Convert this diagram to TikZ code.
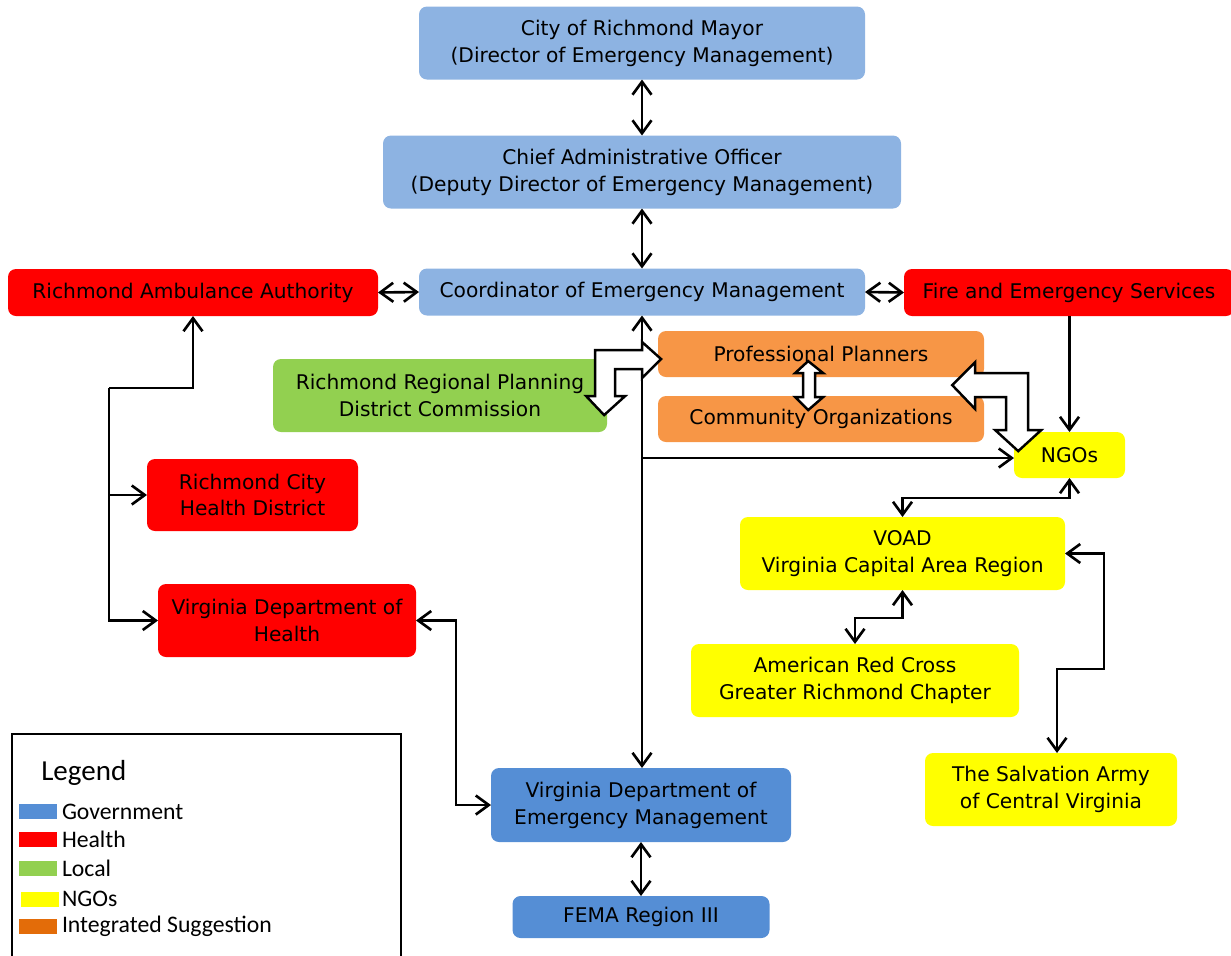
\documentclass[tikz,border=0pt]{standalone}
\usepackage{fontspec}
\setmainfont{DejaVu Sans}
\newfontfamily\legendfont{Carlito}
\usepackage{xcolor}
\definecolor{colorGovLight}{HTML}{8DB3E2}
\definecolor{colorGov}{HTML}{558ED5}
\definecolor{colorHealth}{HTML}{FF0000}
\definecolor{colorLocal}{HTML}{92D050}
\definecolor{colorNGO}{HTML}{FFFF00}
\definecolor{colorPlan}{HTML}{F79646}
\definecolor{colorSuggest}{HTML}{E36C09}
\usetikzlibrary{arrows.meta, positioning}
\tikzset{
  orgbox/.style={rounded corners=0.16cm, align=center, inner sep=2pt, outer sep=0pt, font=\fontsize{11.5}{15.3}\selectfont},
  govlight/.style={orgbox, fill=colorGovLight},
  govbox/.style={orgbox, fill=colorGov},
  healthbox/.style={orgbox, fill=colorHealth},
  localbox/.style={orgbox, fill=colorLocal},
  ngobox/.style={orgbox, fill=colorNGO},
  planbox/.style={orgbox, fill=colorPlan},
  swatch/.style={inner sep=0pt, outer sep=0pt, minimum width=0.76cm, minimum height=0.30cm},
  legtext/.style={inner sep=0pt, outer sep=0pt, anchor=west, font=\legendfont\fontsize{13.5}{15}\selectfont},
  blockarrow/.style={fill=white, draw=black, line width=1.4pt}
}

\begin{document}
\begin{tikzpicture}[>={Straight Barb[length=2.6mm,width=3.8mm]}, line width=1.5pt]
\useasboundingbox (0,0) rectangle (24.62,-19.1);

\node[govlight, minimum width=8.92cm, minimum height=1.46cm] (mayor) at (12.84,-0.86) {City of Richmond Mayor\\(Director of Emergency Management)};
\node[govlight, minimum width=10.36cm, minimum height=1.46cm, below=1.12cm of mayor] (cao) {Chief Administrative Officer\\(Deputy Director of Emergency Management)};
\node[govlight, minimum width=8.92cm, minimum height=0.94cm, below=1.2cm of cao] (coord) {Coordinator of Emergency Management};
\node[healthbox, minimum width=7.40cm, minimum height=0.94cm] (raa) at (3.86,-5.85) {Richmond Ambulance Authority};
\node[healthbox, minimum width=6.60cm, minimum height=0.94cm] (fes) at (21.38,-5.85) {Fire and Emergency Services};
\node[localbox, minimum width=6.68cm, minimum height=1.46cm] (rrpdc) at (8.80,-7.91) {Richmond Regional Planning\\District Commission};
\node[planbox, minimum width=6.52cm, minimum height=0.92cm] (pp) at (16.42,-7.08) {Professional Planners};
\node[planbox, minimum width=6.52cm, minimum height=0.92cm, below=0.38cm of pp] (co) {Community Organizations};
\node[ngobox, minimum width=2.22cm, minimum height=0.92cm] (ngos) at (21.39,-9.10) {NGOs};
\node[healthbox, minimum width=4.22cm, minimum height=1.44cm] (rchd) at (5.05,-9.90) {Richmond City\\Health District};
\node[healthbox, minimum width=5.16cm, minimum height=1.46cm] (vdh) at (5.74,-12.41) {Virginia Department of\\Health};
\node[ngobox, minimum width=6.50cm, minimum height=1.46cm] (voad) at (18.05,-11.07) {VOAD\\Virginia Capital Area Region};
\node[ngobox, minimum width=6.56cm, minimum height=1.46cm] (arc) at (17.10,-13.61) {American Red Cross\\Greater Richmond Chapter};
\node[ngobox, minimum width=5.04cm, minimum height=1.46cm] (tsa) at (21.02,-15.79) {The Salvation Army\\of Central Virginia};
\node[govbox, minimum width=6.00cm, minimum height=1.48cm] (vdem) at (12.82,-16.10) {Virginia Department of\\Emergency Management};
\node[govbox, minimum width=5.14cm, minimum height=0.84cm, below=1.08cm of vdem] (fema) {FEMA Region III};

\coordinate (bus) at (2.18,-7.76);

\draw [<->] (mayor.south) -- (mayor.south |- cao.north);
\draw [<->] (cao.south) -- (cao.south |- coord.north);
\draw [<->] (raa.east) -- (coord.west);
\draw [<->] (coord.east) -- (fes.west);
\draw [<->] (coord.south) -- (coord.south |- vdem.north);
\draw [->] (coord.south |- 0,-9.16) -- (ngos.west |- 0,-9.16);
\draw [->] (ngos.north |- fes.south) -- (ngos.north);
\draw [->] (bus) -| (raa.south);
\draw [->] (bus) |- (vdh.west);
\draw [->] (bus |- rchd.west) -- (rchd.west);
\draw [<->] (vdh.east) -- ++(0.8,0) |- (vdem.west);
\draw [<->] (vdem.south) -- (vdem.south |- fema.north);
\draw [<->] (ngos.south) -- ++(0,-0.4) -| (voad.north);
\draw [<->] (voad.south) -- ++(0,-0.56) -| (arc.north);
\draw [<->] (voad.east) -- ++(0.78,0) -- ++(0,-2.31) -| ([xshift=0.12cm]tsa.north);

\begin{scope}[x=0.02cm, y=-0.02cm]
\path[blockarrow] (661,359) -- (642,378) -- (642,369) -- (615,369) -- (615,396) -- (625,396) -- (604,415) -- (586,396) -- (595,396) -- (595,350) -- (642,350) -- (642,342) -- cycle;
\path[blockarrow] (808,361) -- (823,373) -- (815,373) -- (815,397) -- (823,397) -- (808,410) -- (795,397) -- (803,397) -- (803,373) -- (795,373) -- cycle;
\path[blockarrow] (952,385) -- (975,362) -- (975,373) -- (1028,373) -- (1028,430) -- (1041,430) -- (1018,451) -- (995,430) -- (1006,430) -- (1006,397) -- (975,397) -- (975,409) -- cycle;
\end{scope}

\draw (0.24,-19.4) -- (0.24,-14.68) -- (8.02,-14.68) -- (8.02,-19.4);
\node[anchor=west, inner sep=0pt, font=\legendfont\fontsize{16.5}{18}\selectfont] (legtitle) at (0.80,-15.46) {Legend};
\node[swatch, fill=colorGov] (swGov) at (0.76,-16.23) {};
\node[legtext, right=0.1cm of swGov] (lbGov) {Government};
\node[swatch, fill=colorHealth] (swHealth) at (0.76,-16.78) {};
\node[legtext, right=0.1cm of swHealth] (lbHealth) {Health};
\node[swatch, fill=colorLocal] (swLocal) at (0.76,-17.36) {};
\node[legtext, right=0.1cm of swLocal] (lbLocal) {Local};
\node[swatch, fill=colorNGO] (swNGO) at (0.80,-17.98) {};
\node[legtext, right=0.06cm of swNGO] (lbNGO) {NGOs};
\node[swatch, fill=colorSuggest] (swSuggest) at (0.76,-18.52) {};
\node[legtext, right=0.1cm of swSuggest] (lbSuggest) {Integrated Suggestion};
\end{tikzpicture}
\end{document}
